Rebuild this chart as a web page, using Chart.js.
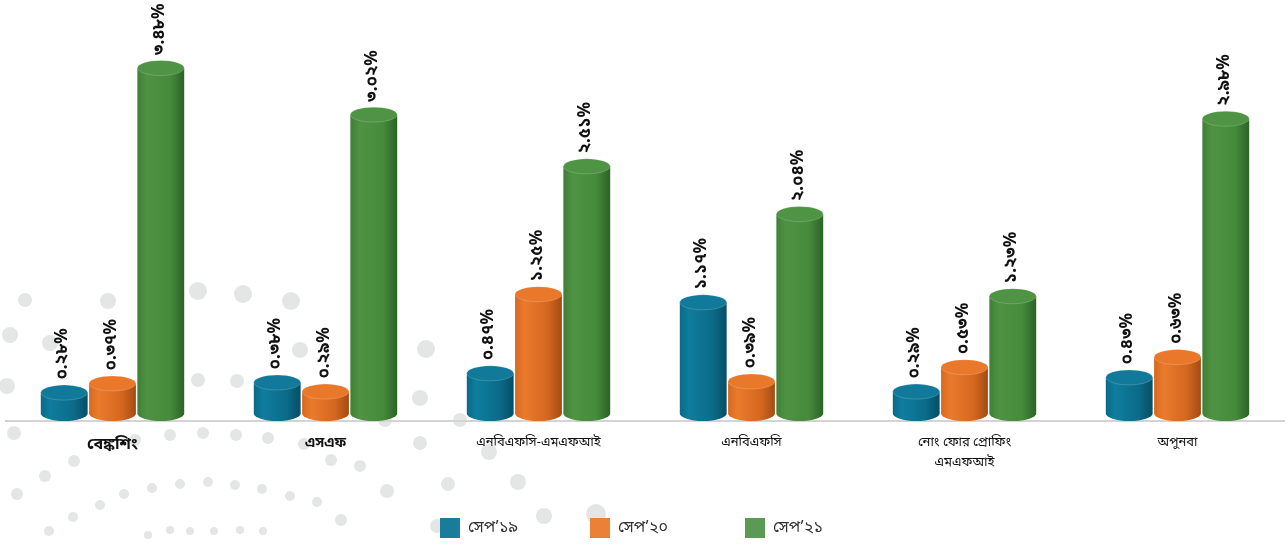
<!DOCTYPE html>
<html>
<head>
<meta charset="utf-8">
<script src="https://cdn.jsdelivr.net/npm/chart.js@4.4.1/dist/chart.umd.min.js"></script>
<style>
  html, body { margin: 0; padding: 0; background: #fff; }
  .wrap { position: relative; width: 1287px; height: 544px; overflow: hidden; }
  #bg { position: absolute; left: 0; top: 0; }
  .legend { position: absolute; top: 518px; left: 0; height: 20px; font: 16px 'Noto Sans Bengali', 'Noto Sans', sans-serif; color: #333; }
  .legend span { position: absolute; top: 0; white-space: nowrap; line-height: 20px; }
  .legend i { display: inline-block; width: 20px; height: 20px; vertical-align: top; margin-right: 8px; }
</style>
</head>
<body>
<div class="wrap">
  <canvas id="bg" width="1287" height="544"></canvas>
  <div style="position:absolute;left:0;top:0;width:1287px;height:544px;">
    <canvas id="chart"></canvas>
  </div>
  <div class="legend" id="legend"></div>
</div>
<script>
const categories = ['বেঙ্কশিং', 'এসএফ', 'এনবিএফসি-এমএফআই', 'এনবিএফসি', ['নোং ফোর প্রোফিং', 'এমএফআই'], 'অপুনবা'];
const seriesNames = ['সেপ’১৯', 'সেপ’২০', 'সেপ’২১'];
const sep19 = [0.28, 0.38, 0.47, 1.17, 0.29, 0.43];
const sep20 = [0.37, 0.29, 1.25, 0.39, 0.53, 0.63];
const sep21 = [3.48, 3.02, 2.51, 2.04, 1.23, 2.98];

const FONT = "'Noto Sans Bengali', 'Noto Sans', 'DejaVu Sans', sans-serif";

// colours per series: legend, body gradient stops, top ellipse
const palette = [
    { legend: '#1a7c9b', body: ['#0a6a88', '#0f7d9e', '#0b6b89', '#064e66'], top: '#11799a' },
    { legend: '#eb8137', body: ['#d7681f', '#ea7b2d', '#d4671f', '#a34c13'], top: '#e9782a' },
    { legend: '#5a9a52', body: ['#3f7f36', '#4f9244', '#468a3c', '#2b6326'], top: '#4f9345' }
];
const legendX = [440, 590, 745];

const bnDigits = '০১২৩৪৫৬৭৮৯';
const toBn = v => v.toFixed(2).replace(/[0-9]/g, d => bnDigits[+d]) + '%';

// faint decorative dots in the background
const drawDots = () => {
    const c = document.getElementById('bg').getContext('2d');
    const dots = [
        [10,335,8],[7,386,8],[14,433,7],[17,494,6],[45,476,6],[49,531,5],[74,461,6],[73,517,5],
        [100,505,5],[124,494,5],[148,535,4],[152,488,5],[170,530,4],[180,484,5],[190,531,4],
        [208,482,5],[214,531,4],[235,485,5],[240,530,4],[262,489,5],[263,531,4],[290,496,5],
        [317,502,5],[341,520,6],[387,491,7],[437,526,7],[544,516,8],[596,514,10],[518,482,8],
        [489,452,8],[448,484,7],[360,466,6],[331,460,6],[304,444,6],[268,438,6],[236,435,6],
        [203,433,6],[170,435,6],[135,440,6],[198,291,9],[243,294,9],[291,301,9],[155,308,9],
        [426,349,9],[420,398,8],[488,398,8],[420,443,7],[237,381,7],[198,380,7],[108,301,8],
        [50,343,8],[25,300,7],[385,420,7],[460,420,7],[300,350,8]
    ];
    c.fillStyle = '#e4e5e5';
    dots.forEach(([x, y, r]) => {
        c.beginPath();
        c.arc(x, y, r, 0, Math.PI * 2);
        c.fill();
    });
};

const buildLegend = () => {
    const el = document.getElementById('legend');
    seriesNames.forEach((name, i) => {
        const s = document.createElement('span');
        s.style.left = legendX[i] + 'px';
        s.innerHTML = '<i style="background:' + palette[i].legend + '"></i>' + name;
        el.appendChild(s);
    });
};

const cylinderPlugin = {
    id: 'cylinders',
    afterDatasetsDraw(chart) {
        const ctx = chart.ctx;
        chart.data.datasets.forEach((ds, di) => {
            const meta = chart.getDatasetMeta(di);
            const pal = palette[di];
            meta.data.forEach((bar, i) => {
                const w = bar.width;
                const rx = w / 2;
                const ry = 7.5;
                const x0 = bar.x - rx;
                const topY = Math.min(bar.y, bar.base - ry * 1.6);
                const botY = bar.base - ry;
                const g = ctx.createLinearGradient(x0, 0, x0 + w, 0);
                g.addColorStop(0, pal.body[0]);
                g.addColorStop(0.2, pal.body[1]);
                g.addColorStop(0.7, pal.body[2]);
                g.addColorStop(1, pal.body[3]);
                ctx.save();
                ctx.fillStyle = g;
                ctx.beginPath();
                ctx.moveTo(x0, topY);
                ctx.lineTo(x0, botY);
                ctx.ellipse(bar.x, botY, rx, ry, 0, Math.PI, 0, true);
                ctx.lineTo(x0 + w, topY);
                ctx.closePath();
                ctx.fill();
                ctx.fillStyle = pal.top;
                ctx.beginPath();
                ctx.ellipse(bar.x, topY, rx, ry, 0, 0, Math.PI * 2);
                ctx.fill();
                ctx.strokeStyle = 'rgba(255,255,255,0.18)';
                ctx.lineWidth = 1;
                ctx.stroke();

                // rotated value label
                ctx.translate(bar.x, topY - 13);
                ctx.rotate(-Math.PI / 2);
                ctx.font = 'bold 17px ' + FONT;
                ctx.fillStyle = '#111';
                ctx.textAlign = 'left';
                ctx.textBaseline = 'middle';
                ctx.fillText(toBn(ds.data[i]), 0, 0);
                ctx.restore();
            });
        });
    }
};

document.addEventListener('DOMContentLoaded', function() {
    drawDots();
    buildLegend();
    const ctx = document.getElementById('chart').getContext('2d');
    new Chart(ctx, {
        type: 'bar',
        data: {
            labels: categories,
            datasets: [sep19, sep20, sep21].map((d, i) => ({
                label: seriesNames[i],
                data: d,
                backgroundColor: 'rgba(0,0,0,0)',
                borderWidth: 0,
                barPercentage: 0.97,
                categoryPercentage: 0.68
            }))
        },
        options: {
            responsive: true,
            maintainAspectRatio: false,
            animation: false,
            layout: { padding: { left: 6, right: 3, top: 0, bottom: 66 } },
            plugins: {
                legend: { display: false },
                tooltip: { enabled: false }
            },
            scales: {
                x: {
                    grid: { display: false },
                    border: { color: '#d4d4d4', width: 2 },
                    ticks: {
                        color: '#111',
                        maxRotation: 0,
                        autoSkip: false,
                        padding: 5,
                        font: c => c.index === 0 ? { family: FONT, size: 16, weight: 'bold', lineHeight: 1.5 }
                            : c.index === 1 ? { family: FONT, size: 14, weight: 'bold', lineHeight: 1.5 }
                            : { family: FONT, size: 13, lineHeight: 1.5 }
                    }
                },
                y: {
                    display: false,
                    min: 0,
                    max: 4.15
                }
            }
        },
        plugins: [cylinderPlugin]
    });
});
</script>
</body>
</html>
